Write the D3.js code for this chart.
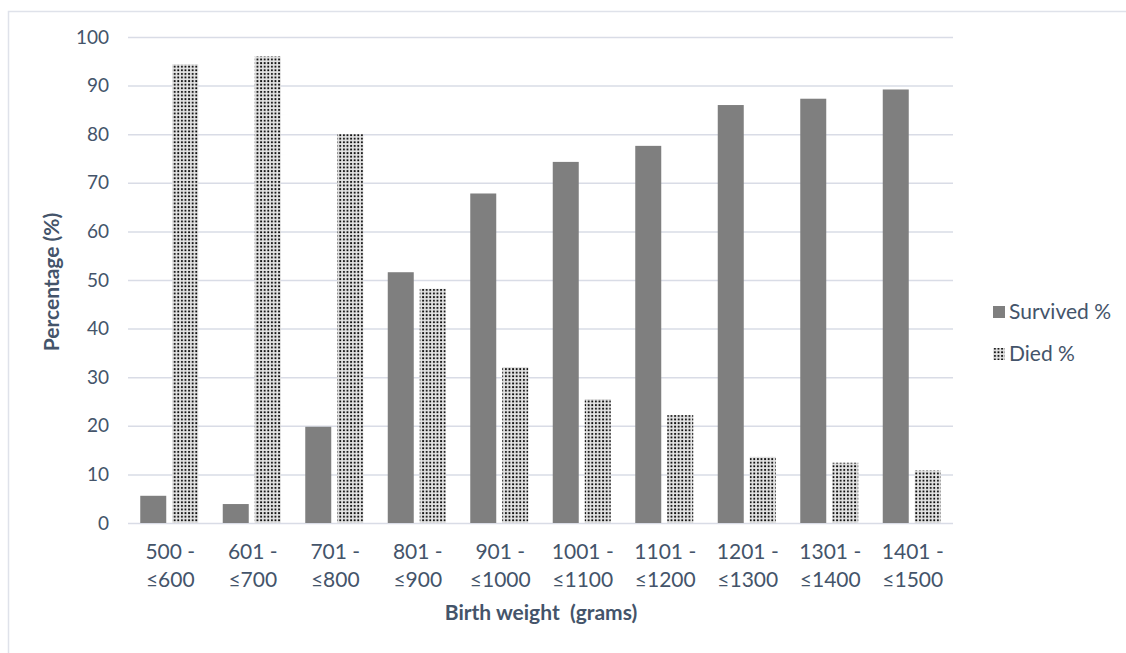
<!DOCTYPE html>
<html>
<head>
<meta charset="utf-8">
<script src="https://cdn.jsdelivr.net/npm/d3@7"></script>
<style>
  html, body { margin: 0; padding: 0; background: #fff; }
  svg text { font-family: Lato, "Open Sans", sans-serif; fill: #44546a; }
</style>
</head>
<body>
<svg id="chart" width="1126" height="653"></svg>
<script>
const categories = ["500 -|≤600", "601 -|≤700", "701 -|≤800", "801 -|≤900", "901 -|≤1000",
                    "1001 -|≤1100", "1101 -|≤1200", "1201 -|≤1300", "1301 -|≤1400", "1401 -|≤1500"];
const survived = [5.6, 3.9, 19.8, 51.6, 67.8, 74.3, 77.6, 86.0, 87.3, 89.2];
const died = [94.4, 96.0, 80.0, 48.2, 32.1, 25.5, 22.2, 13.6, 12.4, 10.8];
const seriesNames = ["Survived %", "Died %"];
const yTicks = [0, 10, 20, 30, 40, 50, 60, 70, 80, 90, 100];

const svg = d3.select("#chart");

// frame
svg.append("path")
  .attr("d", "M8.5,653 L8.5,11.5 L1126,11.5")
  .attr("fill", "none").attr("stroke", "#dfe2ea").attr("stroke-width", 1.5);

const defs = svg.append("defs");
const pat = defs.append("pattern").attr("id", "dots")
  .attr("patternUnits", "userSpaceOnUse").attr("width", 3.6).attr("height", 3.6);
pat.append("rect").attr("width", 3.6).attr("height", 3.6).attr("fill", "#e4e4e4");
pat.append("rect").attr("x", 1).attr("y", 1).attr("width", 1.8).attr("height", 1.8).attr("fill", "#000");

const mLeft = 128, mRight = 953, mTop = 37, mBottom = 523;
const x = d3.scaleBand().domain(categories).range([mLeft, mRight]);
const y = d3.scaleLinear().domain([0, 100]).range([mBottom, mTop]);
const sub = d3.scaleBand().domain(seriesNames).range([0, x.bandwidth()]).paddingInner(0.1875).paddingOuter(0.383);

// grid
svg.append("g").selectAll("line").data(yTicks).join("line")
  .attr("x1", mLeft).attr("x2", mRight)
  .attr("y1", d => y(d) + 0.5).attr("y2", d => y(d) + 0.5)
  .attr("stroke", "#d9dce6").attr("stroke-width", 1.5);

// y tick labels
svg.append("g").selectAll("text").data(yTicks).join("text")
  .attr("x", 109).attr("y", d => y(d)).attr("dy", "0.35em")
  .attr("text-anchor", "end").attr("font-size", 19).text(d => d);

// bars
const g = svg.append("g");
g.selectAll(".s").data(survived).join("rect")
  .attr("x", (d, i) => x(categories[i]) + sub("Survived %"))
  .attr("width", sub.bandwidth())
  .attr("y", d => y(d)).attr("height", d => y(0) - y(d))
  .attr("fill", "#7f7f7f");
g.selectAll(".d").data(died).join("rect")
  .attr("x", (d, i) => x(categories[i]) + sub("Died %"))
  .attr("width", sub.bandwidth())
  .attr("y", d => y(d)).attr("height", d => y(0) - y(d))
  .attr("fill", "url(#dots)");

// x labels
const xl = svg.append("g").selectAll("text").data(categories).join("text")
  .attr("text-anchor", "middle").attr("font-size", 21)
  .attr("x", d => x(d) + x.bandwidth() / 2 + 1);
xl.append("tspan").attr("x", d => x(d) + x.bandwidth() / 2 + 1).attr("y", 559).text(d => d.split("|")[0]);
xl.append("tspan").attr("x", d => x(d) + x.bandwidth() / 2 + 1).attr("y", 587).text(d => d.split("|")[1]);

// axis titles
svg.append("text").attr("transform", "translate(59,282) rotate(-90)")
  .attr("text-anchor", "middle").attr("font-size", 21).attr("font-weight", "bold")
  .text("Percentage (%)");
svg.append("text").attr("x", 541).attr("y", 620)
  .attr("text-anchor", "middle").attr("font-size", 21).attr("font-weight", "bold")
  .style("white-space", "pre")
  .text("Birth weight  (grams)");

// legend
const leg = svg.append("g").selectAll("g").data(seriesNames).join("g")
  .attr("transform", (d, i) => `translate(993,${312 + i * 42})`);
leg.append("rect").attr("x", 0).attr("y", -6).attr("width", 12).attr("height", 12)
  .attr("fill", (d, i) => i === 0 ? "#7f7f7f" : "url(#dots)");
leg.append("text").attr("x", 16).attr("y", 0).attr("dy", "0.35em")
  .attr("font-size", 21).text(d => d);
</script>
</body>
</html>
